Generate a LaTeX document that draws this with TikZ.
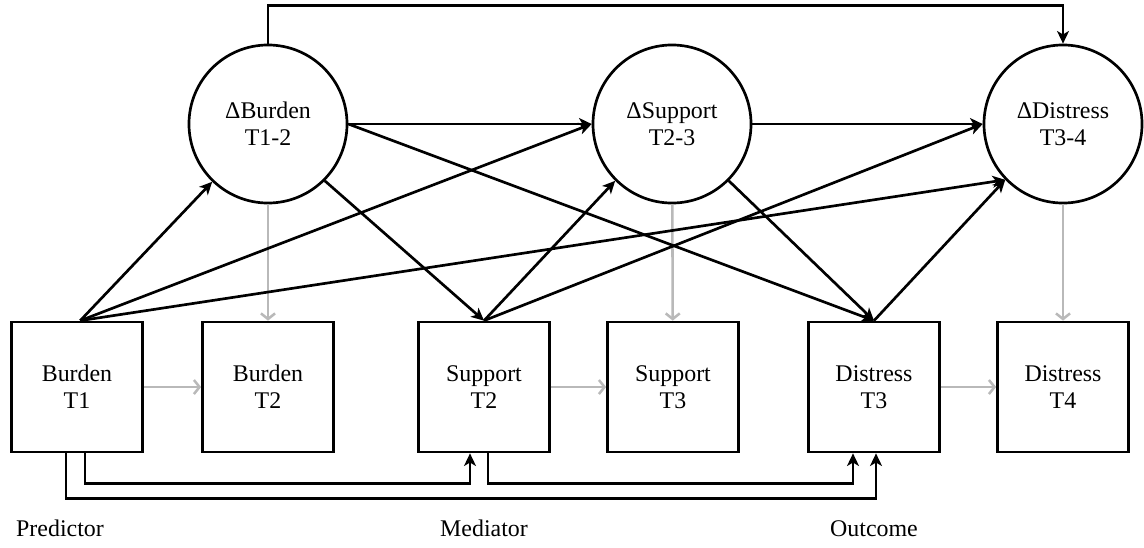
\documentclass[tikz,border=0pt]{standalone}
\usepackage{fontspec}
\setmainfont{Liberation Serif}
\usetikzlibrary{arrows.meta, calc}

\begin{document}
\begin{tikzpicture}[
    x=0.025cm, y=-0.025cm,
    >={Stealth[length=9pt, width=8.5pt, inset=2.5pt]},
    font=\fontsize{17}{19.2}\selectfont,
    obs/.style={rectangle, draw, line width=1.9pt, minimum width=3.275cm, minimum height=3.25cm, inner sep=0pt, align=center},
    latent/.style={circle, draw, line width=1.9pt, minimum size=3.95cm, inner sep=0pt, align=center},
    line/.style={draw, ->, line width=1.9pt},
    carry/.style={draw, line width=1.8pt, gray!55, -{Straight Barb[length=4pt, width=10pt]}},
    lbl/.style={anchor=base, inner sep=0pt}
]
    \useasboundingbox (0,0) rectangle (1144,547);

    % Change scores
    \node [latent] (db) at (268,124) {ΔBurden\\T1-2};
    \node [latent] (ds) at (672,124) {ΔSupport\\T2-3};
    \node [latent] (dd) at (1063,124) {ΔDistress\\T3-4};

    % Observed waves
    \node [obs] (b1) at (77,387) {Burden\\T1};
    \node [obs] (b2) at (268,387) {Burden\\T2};
    \node [obs] (s2) at (484,387) {Support\\T2};
    \node [obs] (s3) at (673,387) {Support\\T3};
    \node [obs] (d3) at (874,387) {Distress\\T3};
    \node [obs] (d4) at (1063,387) {Distress\\T4};

    % Role labels
    \node [lbl] (pred) at (60,536) {Predictor};
    \node [lbl] (med) at (484,536) {Mediator};
    \node [lbl] (out) at (874,536) {Outcome};

    % Stability paths (gray)
    \path [carry] (b1) -- (b2);
    \path [carry] (s2) -- (s3);
    \path [carry] (d3) -- (d4);
    \path [carry] (db) -- (b2);
    \path [carry] (ds) -- (s3);
    \path [carry] (dd) -- (d4);

    % Paths from Burden T1
    \path [line] ([xshift=0.08cm]b1.north) -- (db.226);
    \path [line] ([xshift=0.08cm]b1.north) -- (ds.west);
    \path [line] ([xshift=0.08cm]b1.north) -- (dd.224);

    % Paths from change in burden
    \path [line] (db.east) -- (ds.west);
    \path [line] (db.east) -- (d3.north);
    \path [line] (db.-45) -- (s2.north);
    \path [line] (db.north) -- ++(0,-38) -| (dd.north);

    % Paths from Support T2 and change in support
    \path [line] (s2.north) -- (ds.225);
    \path [line] (s2.north) -- (dd.west);
    \path [line] (ds.east) -- (dd.west);
    \path [line] (ds.-45) -- (d3.north);

    % Distress T3
    \path [line] (d3.north) -- (dd.224);

    % Bottom routes
    \path [line] ([xshift=0.2cm]b1.south) -- ++(0,30) -| ([xshift=-0.35cm]s2.south);
    \path [line] ([xshift=-0.275cm]b1.south) -- ++(0,45) -| ([xshift=0.05cm]d3.south);
    \path [line] ([xshift=0.1cm]s2.south) -- ++(0,30) -| ([xshift=-0.525cm]d3.south);

\end{tikzpicture}
\end{document}
